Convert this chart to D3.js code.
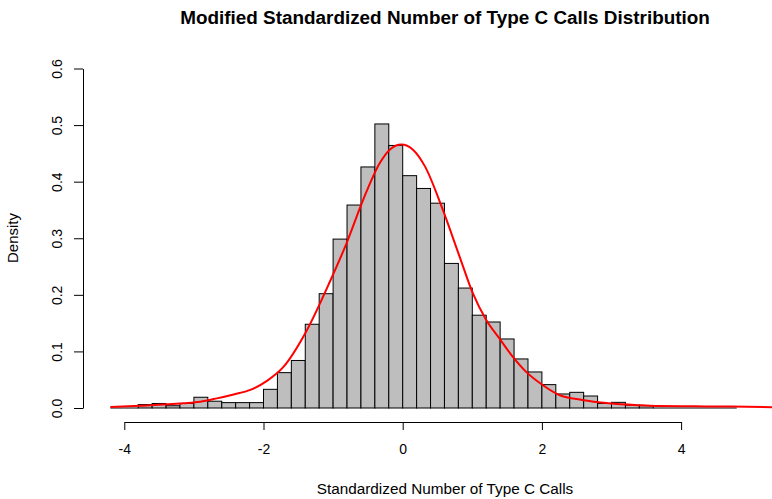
<!DOCTYPE html>
<html>
<head>
<meta charset="utf-8">
<script src="https://cdn.jsdelivr.net/npm/d3@7"></script>
<style>
  html, body { margin: 0; padding: 0; background: #fff; }
  svg { display: block; font-family: "Liberation Sans", Arial, sans-serif; }
</style>
</head>
<body>
<svg id="chart" width="772" height="499"></svg>
<script>
// Histogram bins (left edges), width 0.2
const binStart = -4.2;
const binWidth = 0.2;
const binDensity = [
  0, 0, 0.006, 0.008, 0.004, 0.008, 0.019, 0.012, 0.0095, 0.0095,
  0.0095, 0.033, 0.0625, 0.084, 0.148, 0.202, 0.2985, 0.3587, 0.426, 0.502,
  0.464, 0.4106, 0.388, 0.362, 0.2555, 0.212, 0.164, 0.152, 0.122, 0.0867,
  0.0637, 0.0413, 0.0248, 0.0277, 0.0212, 0.008, 0.010, 0.005, 0.004, 0,
  0, 0, 0, 0, 0
];

// Density curve
const curveX = [-4.2, -3.77, -3.15, -2.91, -2.67, -2.43, -2.19, -1.95, -1.71, -1.40,
  -1.045, -0.806, -0.568, -0.329, -0.186, -0.019, 0.147, 0.32, 0.577, 0.816,
  1.007, 1.198, 1.389, 1.58, 1.77, 2.01, 2.25, 2.58, 2.96, 3.44,
  3.68, 4.2, 4.7, 5.4];
const curveY = [0.0018, 0.004, 0.0083, 0.011, 0.017, 0.024, 0.032, 0.048, 0.073, 0.132,
  0.2236, 0.2915, 0.368, 0.433, 0.4566, 0.4655, 0.4566, 0.427, 0.350, 0.268,
  0.203, 0.156, 0.123, 0.0908, 0.0643, 0.0407, 0.023, 0.0142, 0.0083, 0.0047,
  0.0035, 0.003, 0.0025, 0.0012];

const xTicks = [-4, -2, 0, 2, 4];
const yTicks = [0, 0.1, 0.2, 0.3, 0.4, 0.5, 0.6];

const title = "Modified Standardized Number of Type C Calls Distribution";
const xLabel = "Standardized Number of Type C Calls";
const yLabel = "Density";

const svg = d3.select("#chart");
const x = d3.scaleLinear().domain([-4, 4]).range([124.3, 681.1]);
const y = d3.scaleLinear().domain([0, 0.6]).range([408, 68.5]);

// bars
const bins = binDensity.map((d, i) => ({x0: binStart + i * binWidth, x1: binStart + (i + 1) * binWidth, d}));
const barG = svg.append("g");
barG.selectAll("rect").data(bins.filter(b => b.d > 0)).join("rect")
  .attr("x", b => x(b.x0))
  .attr("y", b => y(b.d))
  .attr("width", b => x(b.x1) - x(b.x0))
  .attr("height", b => y(0) - y(b.d))
  .attr("fill", "#bebebe")
  .attr("stroke", "#000")
  .attr("stroke-width", 1);
// zero-count bins drawn as flat outlines on the baseline
barG.selectAll("line").data(bins.filter(b => b.d === 0)).join("line")
  .attr("x1", b => x(b.x0)).attr("x2", b => x(b.x1))
  .attr("y1", y(0)).attr("y2", y(0))
  .attr("stroke", "#000").attr("stroke-width", 1);

// density line
const pts = curveX.map((v, i) => [v, curveY[i]]);
svg.append("path")
  .datum(pts)
  .attr("fill", "none")
  .attr("stroke", "#ff0000")
  .attr("stroke-width", 2)
  .attr("d", d3.line().x(p => x(p[0])).y(p => y(p[1])).curve(d3.curveMonotoneX));

// x axis
const xAxis = svg.append("g")
  .attr("transform", "translate(0,422)")
  .call(d3.axisBottom(x).tickValues(xTicks).tickSize(8).tickSizeOuter(0).tickFormat(d3.format("d")));
xAxis.selectAll("text").attr("font-size", "14px").attr("fill", "#000").attr("dy", null).attr("y", 32)
  .text(d => d < 0 ? "-" + Math.abs(d) : String(d));
xAxis.selectAll("path, line").attr("stroke", "#000");
xAxis.attr("font-family", null);

// y axis
const yAxis = svg.append("g")
  .attr("transform", "translate(83,0)")
  .call(d3.axisLeft(y).tickValues(yTicks).tickSize(9).tickSizeOuter(0).tickFormat(d3.format(".1f")));
yAxis.attr("font-family", null);
yAxis.selectAll("path, line").attr("stroke", "#000");
yAxis.selectAll("text")
  .attr("font-size", "14px").attr("fill", "#000")
  .attr("x", null).attr("dy", null)
  .attr("text-anchor", "middle")
  .attr("transform", "translate(-21,0) rotate(-90)");

// title
svg.append("text")
  .attr("x", 445).attr("y", 24)
  .attr("text-anchor", "middle")
  .attr("font-weight", "bold")
  .attr("font-size", "18.9px")
  .text(title);

// x label
svg.append("text")
  .attr("x", 445).attr("y", 494)
  .attr("text-anchor", "middle")
  .attr("font-size", "15.3px")
  .text(xLabel);

// y label
svg.append("text")
  .attr("transform", "translate(18,238) rotate(-90)")
  .attr("text-anchor", "middle")
  .attr("font-size", "15px")
  .text(yLabel);
</script>
</body>
</html>
